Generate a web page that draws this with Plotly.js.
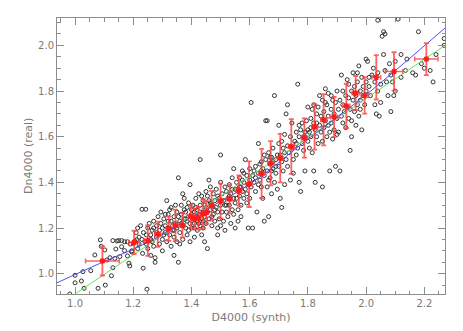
<!DOCTYPE html>
<html>
<head>
<meta charset="utf-8">
<script src="https://cdn.plot.ly/plotly-3.0.1.min.js"></script>
<style>
  html, body { margin: 0; padding: 0; background: #fff; }
  #chart { width: 463px; height: 331px; }
</style>
</head>
<body>
<div id="chart"></div>
<script>
// individual galaxies: D4000 (synth) vs Dn4000 (real)
const scatterX = [
  0.982, 1.0, 1.0, 1.022, 1.027, 1.031, 1.054, 1.068, 1.079, 1.087, 1.09, 1.102, 1.104,
  1.11, 1.12, 1.125, 1.13, 1.13, 1.137, 1.14, 1.144, 1.15, 1.154, 1.16, 1.16, 1.17, 1.17, 1.18, 1.18, 1.185, 1.188, 1.19, 1.194, 1.195, 1.2, 1.205, 1.211,
  1.21, 1.215, 1.215, 1.22, 1.22, 1.225, 1.23, 1.23, 1.232, 1.234, 1.235, 1.24, 1.243, 1.245, 1.245, 1.247, 1.25, 1.25,
  1.255, 1.26, 1.26, 1.26, 1.265, 1.265, 1.27, 1.27, 1.27, 1.275, 1.275, 1.28, 1.28, 1.28, 1.285, 1.29, 1.29, 1.295, 1.295, 1.3, 1.3, 1.3,
  1.305, 1.305, 1.31, 1.31, 1.31, 1.315, 1.315, 1.32, 1.32, 1.32, 1.325, 1.325, 1.33, 1.33, 1.33, 1.335, 1.335, 1.34, 1.34, 1.34, 1.34, 1.345, 1.345, 1.35, 1.35, 1.35, 1.355, 1.355,
  1.355, 1.36, 1.36, 1.36, 1.365, 1.365, 1.365, 1.37, 1.37, 1.37, 1.375, 1.375, 1.375, 1.38, 1.38, 1.38, 1.385, 1.385, 1.385, 1.39, 1.39, 1.39, 1.395, 1.395, 1.395, 1.4, 1.4, 1.4,
  1.405, 1.405, 1.41, 1.41, 1.41, 1.41, 1.415, 1.415, 1.415, 1.42, 1.42, 1.42, 1.42, 1.425, 1.425, 1.425, 1.43, 1.43, 1.43, 1.43, 1.435, 1.435, 1.435, 1.44, 1.44, 1.44, 1.44, 1.445, 1.445, 1.445, 1.45, 1.45, 1.45, 1.455,
  1.455, 1.455, 1.46, 1.46, 1.46, 1.465, 1.465, 1.465, 1.47, 1.47, 1.47, 1.475, 1.475, 1.48, 1.48, 1.48, 1.485, 1.485, 1.49, 1.49, 1.49, 1.49, 1.495, 1.495, 1.5, 1.5, 1.5, 1.5,
  1.505, 1.505, 1.51, 1.51, 1.515, 1.515, 1.515, 1.52, 1.52, 1.52, 1.525, 1.525, 1.53, 1.53, 1.53, 1.535, 1.535, 1.54, 1.54, 1.54, 1.545, 1.545, 1.545, 1.55, 1.55, 1.55,
  1.555, 1.555, 1.56, 1.56, 1.56, 1.565, 1.565, 1.565, 1.57, 1.57, 1.57, 1.575, 1.575, 1.575, 1.58, 1.58, 1.58, 1.585, 1.585, 1.59, 1.59, 1.59, 1.595, 1.595, 1.6, 1.6, 1.6,
  1.605, 1.605, 1.61, 1.61, 1.615, 1.615, 1.62, 1.62, 1.62, 1.625, 1.63, 1.63, 1.63, 1.635, 1.635, 1.64, 1.64, 1.64, 1.645, 1.645, 1.65, 1.65, 1.65, 1.655,
  1.655, 1.66, 1.66, 1.66, 1.665, 1.665, 1.665, 1.67, 1.67, 1.67, 1.675, 1.675, 1.675, 1.68, 1.68, 1.68, 1.685, 1.685, 1.69, 1.69, 1.69, 1.695, 1.695, 1.7, 1.7, 1.7,
  1.705, 1.705, 1.71, 1.71, 1.71, 1.715, 1.715, 1.72, 1.72, 1.72, 1.725, 1.725, 1.73, 1.73, 1.73, 1.735, 1.74, 1.74, 1.745, 1.745, 1.75, 1.75,
  1.755, 1.76, 1.76, 1.76, 1.765, 1.765, 1.77, 1.77, 1.77, 1.775, 1.775, 1.78, 1.78, 1.785, 1.785, 1.79, 1.79, 1.79, 1.795, 1.8, 1.8, 1.8,
  1.805, 1.805, 1.81, 1.81, 1.81, 1.815, 1.815, 1.82, 1.82, 1.82, 1.825, 1.825, 1.83, 1.83, 1.83, 1.835, 1.835, 1.84, 1.84, 1.845, 1.845, 1.85, 1.85, 1.85,
  1.855, 1.855, 1.86, 1.86, 1.86, 1.865, 1.865, 1.87, 1.87, 1.87, 1.875, 1.875, 1.88, 1.88, 1.88, 1.885, 1.885, 1.89, 1.89, 1.895, 1.895, 1.9, 1.9, 1.9,
  1.905, 1.905, 1.91, 1.91, 1.915, 1.915, 1.92, 1.92, 1.92, 1.925, 1.93, 1.93, 1.935, 1.935, 1.94, 1.94, 1.94, 1.945, 1.945, 1.95, 1.95, 1.95,
  1.955, 1.955, 1.96, 1.96, 1.96, 1.965, 1.965, 1.97, 1.97, 1.97, 1.975, 1.975, 1.98, 1.98, 1.98, 1.985, 1.985, 1.99, 1.99, 1.995, 2.0, 2.0, 2.0,
  2.005, 2.01, 2.01, 2.015, 2.02, 2.025, 2.03, 2.03, 2.035, 2.04, 2.04, 2.04, 2.045, 2.05, 2.05,
  2.055, 2.06, 2.06, 2.065, 2.065, 2.07, 2.075, 2.08, 2.085, 2.085, 2.09, 2.095, 2.1, 2.1, 2.11,
  2.12, 2.12, 2.135, 2.14, 2.16, 2.17, 2.18, 2.19, 2.2, 2.22, 2.23, 2.24, 2.268, 2.268
];
const scatterY = [
  0.911, 0.96, 0.993, 0.968, 1.009, 0.936, 1.013, 1.082, 0.936, 1.148, 1.12, 1.104, 0.95,
  1.06, 1.07, 0.991, 1.026, 1.145, 1.067, 1.108, 1.143, 1.145, 1.075, 1.118, 1.145, 1.101, 1.14, 1.078, 1.14, 1.046, 1.034, 1.13, 1.096, 1.1, 1.133, 1.143, 1.148,
  1.18, 1.11, 1.2, 1.16, 1.13, 1.21, 1.282, 1.15, 1.089, 1.024, 1.18, 1.14, 1.282, 1.17, 1.13, 0.932, 1.2, 1.11,
  1.22, 1.15, 1.08, 1.17, 1.19, 1.14, 1.12, 1.23, 1.2, 1.07, 1.05, 1.16, 1.21, 1.18, 1.25, 1.19, 1.13, 1.27, 1.22, 1.2, 1.1, 1.15,
  1.24, 1.17, 1.18, 1.21, 1.26, 1.32, 1.14, 1.26, 1.2, 1.23, 1.17, 1.28, 1.29, 1.23, 1.12, 1.19, 1.21, 1.25, 1.16, 1.08, 1.19, 1.22, 1.3, 1.2, 1.14, 1.27, 1.42, 1.05,
  1.25, 1.23, 1.18, 1.13, 1.26, 1.3, 1.22, 1.21, 1.15, 1.35, 1.24, 1.33, 1.28, 1.2, 1.27, 1.24, 1.23, 1.17, 1.29, 1.25, 1.31, 1.19, 1.22, 1.39, 1.14, 1.26, 1.2, 1.28,
  1.24, 1.3, 1.22, 1.27, 1.16, 1.2, 1.25, 1.33, 1.29, 1.23, 1.28, 1.19, 1.25, 1.35, 1.26, 1.22, 1.21, 1.3, 1.5, 1.27, 1.24, 1.17, 1.34, 1.27, 1.32, 1.2, 1.23, 1.25, 1.14, 1.3, 1.29, 1.22, 1.36, 1.11,
  1.27, 1.34, 1.32, 1.24, 1.41, 1.28, 1.38, 1.31, 1.21, 1.3, 1.25, 1.35, 1.26, 1.23, 1.32, 1.28, 1.29, 1.37, 1.17, 1.27, 1.34, 1.2, 1.33, 1.24, 1.3, 1.4, 1.21, 1.52,
  1.27, 1.35, 1.32, 1.23, 1.3, 1.19, 1.38, 1.36, 1.27, 1.3, 1.33, 1.25, 1.39, 1.3, 1.34, 1.22, 1.35, 1.28, 1.42, 1.37, 1.33, 1.26, 1.46, 1.37, 1.31, 1.2,
  1.33, 1.4, 1.36, 1.28, 1.23, 1.42, 1.34, 1.38, 1.38, 1.3, 1.25, 1.45, 1.36, 1.41, 1.4, 1.33, 1.44, 1.5, 1.37, 1.43, 1.35, 1.31, 1.39, 1.2, 1.46, 1.41, 1.33,
  1.38, 1.75, 1.43, 1.2, 1.4, 1.45, 1.47, 1.36, 1.42, 1.27, 1.44, 1.57, 1.39, 1.41, 1.48, 1.49, 1.38, 1.45, 1.46, 1.33, 1.52, 1.43, 1.23, 1.67,
  1.5, 1.45, 1.38, 1.67, 1.53, 1.25, 1.41, 1.48, 1.42, 1.51, 1.51, 1.35, 1.45, 1.55, 1.46, 1.49, 1.78, 1.4, 1.5, 1.44, 1.47, 1.52, 1.37, 1.47, 1.65, 1.57,
  1.52, 1.33, 1.49, 1.29, 1.58, 1.55, 1.45, 1.61, 1.39, 1.53, 1.5, 1.7, 1.56, 1.47, 1.74, 1.53, 1.6, 1.41, 1.55, 1.66, 1.5, 1.44,
  1.58, 1.62, 1.52, 1.57, 1.83, 1.55, 1.6, 1.4, 1.65, 1.63, 1.36, 1.57, 1.66, 1.6, 1.54, 1.62, 1.45, 1.6, 1.67, 1.58, 1.63, 1.73,
  1.62, 1.55, 1.68, 1.6, 1.64, 1.72, 1.53, 1.66, 1.45, 1.74, 1.63, 1.4, 1.7, 1.6, 1.66, 1.73, 1.57, 1.65, 1.78, 1.62, 1.69, 1.76, 1.58, 1.38,
  1.71, 1.64, 1.81, 1.67, 1.75, 1.6, 1.74, 1.69, 1.79, 1.65, 1.62, 1.45, 1.72, 1.66, 1.78, 1.76, 1.59, 1.7, 1.63, 1.75, 1.47, 1.68, 1.61, 1.8,
  1.72, 1.62, 1.76, 1.45, 1.69, 1.87, 1.74, 1.66, 1.8, 1.71, 1.78, 1.64, 1.73, 1.85, 1.68, 1.77, 1.83, 1.72, 1.54, 1.8, 1.67, 1.6,
  1.76, 1.88, 1.71, 1.82, 1.79, 1.78, 1.65, 1.84, 1.74, 1.88, 1.91, 1.69, 1.8, 1.76, 1.72, 1.86, 1.63, 1.78, 1.82, 1.74, 1.84, 1.8, 1.94,
  1.93, 1.82, 1.86, 1.78, 1.87, 1.9, 1.74, 1.84, 1.7, 1.88, 1.8, 2.11, 1.69, 1.83, 1.75,
  2.04, 2.06, 1.96, 2.05, 1.89, 1.84, 1.78, 1.92, 1.87, 1.71, 1.84, 1.78, 1.8, 1.93, 2.115,
  1.96, 1.86, 1.89, 1.94, 1.88, 1.87, 2.06, 1.92, 1.9, 1.89, 1.84, 1.96, 2.03, 2.0
];

// binned means with 1-sigma spread (red)
const binX = [1.094, 1.203, 1.25, 1.284, 1.322, 1.345, 1.369, 1.398, 1.411, 1.424, 1.44, 1.451, 1.469, 1.5, 1.531, 1.563,
  1.598, 1.641, 1.672, 1.705, 1.743, 1.788, 1.823, 1.854, 1.89, 1.932, 1.964, 1.995, 2.035, 2.096, 2.207];
const binY = [1.056, 1.137, 1.145, 1.173, 1.197, 1.212, 1.212, 1.25, 1.24, 1.243, 1.262, 1.268, 1.298, 1.319, 1.327, 1.364,
  1.392, 1.439, 1.484, 1.506, 1.557, 1.594, 1.643, 1.674, 1.686, 1.735, 1.791, 1.781, 1.86, 1.886, 1.94];
const binYerr = [0.064, 0.051, 0.067, 0.055, 0.053, 0.069, 0.053, 0.05, 0.045, 0.05, 0.065, 0.05, 0.065, 0.077, 0.063, 0.066,
  0.1, 0.108, 0.097, 0.106, 0.12, 0.086, 0.1, 0.112, 0.088, 0.097, 0.075, 0.08, 0.097, 0.084, 0.07];
const binXerr = [0.058, 0.018, 0.012, 0.01, 0.009, 0.008, 0.009, 0.008, 0.006, 0.006, 0.008, 0.007, 0.008, 0.009, 0.009, 0.01,
  0.01, 0.01, 0.01, 0.01, 0.01, 0.01, 0.01, 0.01, 0.012, 0.012, 0.012, 0.012, 0.015, 0.03, 0.04];

// one-to-one style relation (blue) and linear fit (green)
const blueX = [0.938, 1.085, 1.25, 1.4, 1.6, 1.79, 2.0, 2.271];
const blueY = [0.96, 1.045, 1.137, 1.247, 1.392, 1.579, 1.784, 2.076];
const greenX = [1.0, 2.271];
const greenY = [0.911, 2.0];

const AXIS_COLOR = '#8c8c8c';
const TEXT_COLOR = '#7a7a7a';

const axisBase = {
  showgrid: false,
  zeroline: false,
  showline: true,
  linecolor: AXIS_COLOR,
  linewidth: 1,
  mirror: 'ticks',
  ticks: 'inside',
  ticklen: 7,
  tickwidth: 1,
  tickcolor: AXIS_COLOR,
  tickfont: { family: 'DejaVu Sans, sans-serif', size: 10, color: TEXT_COLOR },
  minor: { ticks: 'inside', ticklen: 3.5, tickcolor: AXIS_COLOR, dtick: 0.05 }
};

const traces = [
  {
    x: scatterX, y: scatterY, type: 'scatter', mode: 'markers',
    marker: { symbol: 'circle-open', size: 4, color: '#333', line: { width: 1 } },
    hoverinfo: 'x+y'
  },
  {
    x: greenX, y: greenY, type: 'scatter', mode: 'lines',
    line: { color: '#66e066', width: 1 }
  },
  {
    x: blueX, y: blueY, type: 'scatter', mode: 'lines',
    line: { color: '#4d4dff', width: 1, shape: 'spline' }
  },
  {
    x: binX, y: binY, type: 'scatter', mode: 'markers',
    marker: { symbol: 'asterisk-open', size: 5, color: '#ff1a1a', line: { color: '#ff1a1a', width: 1.5 } },
    error_y: { type: 'data', array: binYerr, color: 'rgba(255,60,60,0.8)', thickness: 1.8, width: 2.5 },
    error_x: { type: 'data', array: binXerr, color: 'rgba(255,60,60,0.8)', thickness: 1.5, width: 2.5 }
  }
];

const layout = {
  width: 463,
  height: 331,
  paper_bgcolor: '#fff',
  plot_bgcolor: '#fff',
  showlegend: false,
  margin: { l: 57, r: 18, t: 18, b: 37 },
  font: { family: 'DejaVu Sans, sans-serif', color: TEXT_COLOR },
  xaxis: {
    ...axisBase,
    range: [0.938, 2.271],
    dtick: 0.2,
    tick0: 1.0,
    tickformat: '.1f',
    title: { text: 'D4000 (synth)', font: { size: 11, color: TEXT_COLOR }, standoff: 5 }
  },
  yaxis: {
    ...axisBase,
    range: [0.911, 2.12],
    dtick: 0.2,
    tick0: 1.0,
    tickformat: '.1f'
  },
  // y title placed by hand so it sits as close to the labels as in the original
  annotations: [{
    text: 'Dn4000 (real)', textangle: -90,
    xref: 'paper', yref: 'paper', x: 0, y: 0.5,
    xanchor: 'center', yanchor: 'middle', xshift: -29,
    showarrow: false, font: { size: 11, color: TEXT_COLOR }
  }]
};

Plotly.newPlot('chart', traces, layout, { displayModeBar: false, staticPlot: true });
</script>
</body>
</html>
